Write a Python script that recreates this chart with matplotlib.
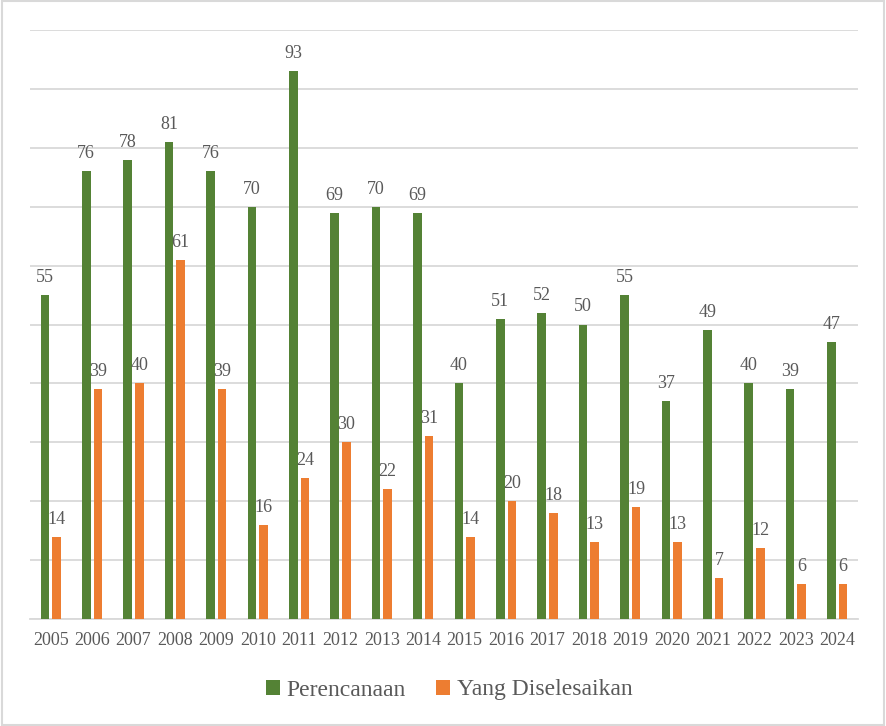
import matplotlib
matplotlib.use("Agg")
import matplotlib.pyplot as plt
from matplotlib.patches import Rectangle
import numpy as np

years = ["2005", "2006", "2007", "2008", "2009", "2010", "2011", "2012", "2013", "2014",
         "2015", "2016", "2017", "2018", "2019", "2020", "2021", "2022", "2023", "2024"]
perencanaan = [55, 76, 78, 81, 76, 70, 93, 69, 70, 69, 40, 51, 52, 50, 55, 37, 49, 40, 39, 47]
diselesaikan = [14, 39, 40, 61, 39, 16, 24, 30, 22, 31, 14, 20, 18, 13, 19, 13, 7, 12, 6, 6]

plt.rcParams['font.family'] = ['Liberation Serif', 'DejaVu Serif']
text_color = "#595959"
green = "#548235"
orange = "#ED7D31"
grid_color = "#D9D9D9"

fig = plt.figure(figsize=(8.86, 7.26), dpi=100)
ax = fig.add_axes([30/886, 107/726, 828/886, 589/726])

x = np.arange(len(years))
w = 0.21
off = 0.14
b1 = ax.bar(x - off, perencanaan, w, color=green, label="Perencanaan", zorder=3)
b2 = ax.bar(x + off, diselesaikan, w, color=orange, label="Yang Diselesaikan", zorder=3)

for rects, vals in ((b1, perencanaan), (b2, diselesaikan)):
    for r, v in zip(rects, vals):
        ax.annotate(str(v), (r.get_x() + r.get_width() / 2, v), xytext=(0, 6.5),
                    textcoords="offset points", ha="center", va="bottom",
                    fontsize=13, color=text_color, zorder=4)

ax.set_xlim(-0.5, len(years) - 0.5)
ax.set_ylim(0, 100)
ax.set_yticks(np.arange(0, 101, 10))
ax.yaxis.grid(True, color=grid_color, linewidth=1.3, zorder=0)
ax.set_yticklabels([])
ax.tick_params(axis='y', length=0)
ax.set_xticks(x)
ax.set_xticklabels(years, fontsize=13, color=text_color)
ax.tick_params(axis='x', length=0, pad=9.5)
for s in ("top", "right", "left"):
    ax.spines[s].set_visible(False)
ax.spines["bottom"].set_color(grid_color)
ax.spines["bottom"].set_linewidth(1.3)
ax.spines["bottom"].set_zorder(2)

leg = fig.legend(handles=[b1, b2], loc="center", bbox_to_anchor=(449/886, 1 - 690/726),
                 ncol=2, frameon=False, fontsize=17, handlelength=0.6, handleheight=0.6,
                 handletextpad=0.3, columnspacing=1.25)
for t in leg.get_texts():
    t.set_color(text_color)

fig.patches.append(Rectangle((0.002, 0.002), 0.996, 0.996, transform=fig.transFigure,
                             fill=False, edgecolor="#D9D9D9", linewidth=1.5))

fig.savefig("out.png", dpi=100)
